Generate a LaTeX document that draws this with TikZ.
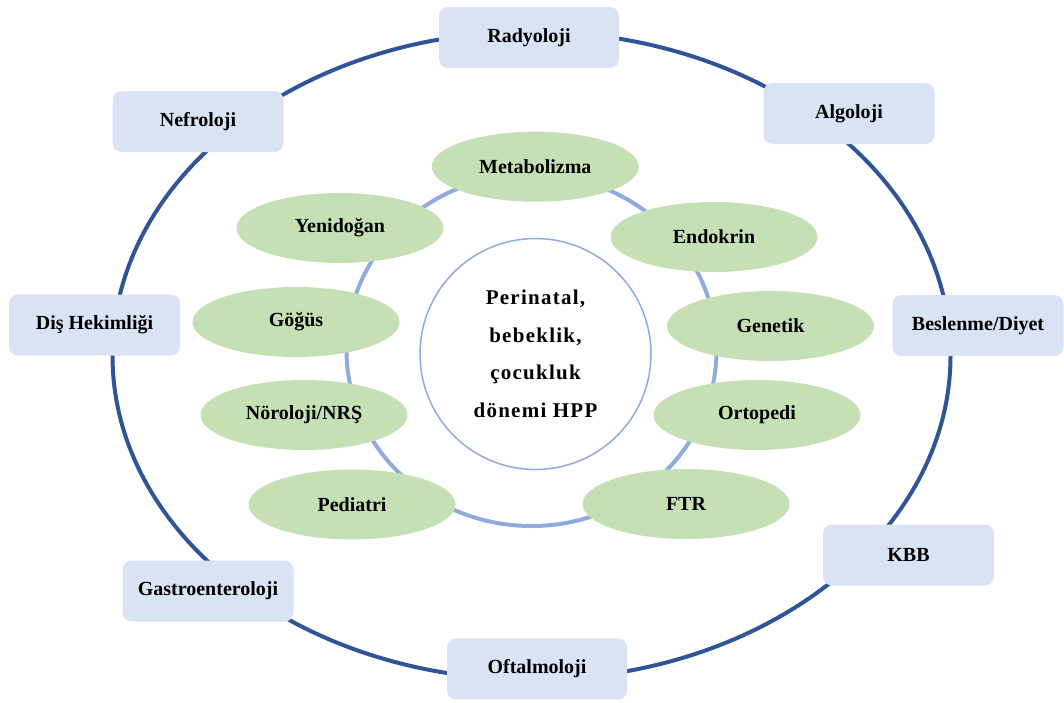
\documentclass[tikz,border=0pt]{standalone}
\usepackage{fontspec}
\setmainfont{Liberation Serif}
\usepackage{xcolor}
\usepackage{tikz}
\usetikzlibrary{shapes.geometric}
\definecolor{ringdark}{HTML}{2F5597}
\definecolor{ringlight}{HTML}{8FAADC}
\definecolor{boxfill}{HTML}{DAE3F3}
\definecolor{ovalfill}{HTML}{C5E0B4}

\begin{document}
\begin{tikzpicture}[x=1pt, y=-1pt,
  unit/.style={fill=boxfill, rounded corners=9pt, align=center,
               font=\bfseries\fontsize{20}{24}\selectfont,
               minimum width=#1, minimum height=61pt, inner sep=0pt},
  unit/.default=171pt,
  oval/.style={ellipse, fill=ovalfill, font=\bfseries\fontsize{20}{24}\selectfont,
               minimum width=207pt, minimum height=70pt, inner sep=0pt},
  hub/.style={circle, draw=ringlight, line width=1.5pt, fill=white, align=center,
              minimum size=231pt, inner sep=0pt,
              font=\bfseries\fontsize{21}{37.5}\selectfont\addfontfeature{LetterSpace=6}}]
  \useasboundingbox (0,0) rectangle (1064,702);
  % the two rings
  \draw[ringdark, line width=4pt] (531.5,355.6) ellipse [x radius=419, y radius=324];
  \draw[ringlight, line width=4pt] (531.5,350) ellipse [x radius=185, y radius=176];
  % centre
  \node[hub] (hpp) at (535.5,354) {Perinatal,\\bebeklik,\\çocukluk\\dönemi HPP};
  % outer ring: departments
  \node[unit=180pt] (radyo)  at (529,37.5)  {Radyoloji};
  \node[unit]       (nefro)  at (198,121.5) {Nefroloji};
  \node[unit]       (algo)   at (849,113.5) {Algoloji};
  \node[unit]       (dis)    at (94.5,325)  {Diş Hekimliği};
  \node[unit]       (diyet)  at (978,325.5) {Beslenme/Diyet};
  \node[unit]       (gastro) at (208,591)   {Gastroenteroloji};
  \node[unit]       (kbb)    at (908.5,555) {KBB};
  \node[unit=180pt] (oftal)  at (537,669)   {Oftalmoloji};
  % inner ring: departments
  \node[oval] (metab)  at (535.3,166.7) {Metabolizma};
  \node[oval] (yeni)   at (340,228)     {Yenidoğan};
  \node[oval] (endo)   at (714,237)     {Endokrin};
  \node[oval] (gogus)  at (296,322)     {Göğüs};
  \node[oval] (genet)  at (770.5,326)   {Genetik};
  \node[oval] (noro)   at (304,415)     {Nöroloji/NRŞ};
  \node[oval] (orto)   at (757,415)     {Ortopedi};
  \node[oval] (pedi)   at (352,504.5)   {Pediatri};
  \node[oval] (ftr)    at (686,504)     {FTR};
\end{tikzpicture}
\end{document}
